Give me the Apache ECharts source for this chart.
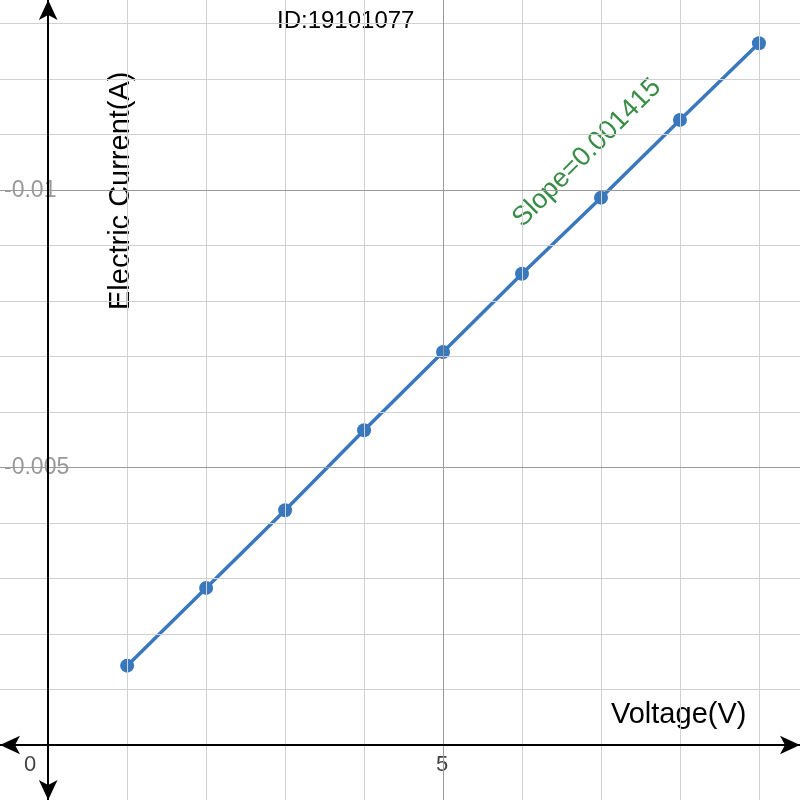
<!DOCTYPE html>
<html>
<head>
<meta charset="utf-8">
<script src="https://cdn.jsdelivr.net/npm/echarts@6/dist/echarts.min.js"></script>
<style>html,body{margin:0;padding:0;background:#fff}#main{width:800px;height:800px}</style>
</head>
<body>
<div id="main"></div>
<script>
// voltage (V) and current (A)
var voltage = [1, 2, 3, 4, 5, 6, 7, 8, 9];
var current = [0.00143, 0.00283, 0.00423, 0.00567, 0.00708, 0.00849, 0.00986, 0.01126, 0.01264];
var xGrid = [1, 2, 3, 4, 6, 7, 8, 9];
var xMajor = [5];
var yGrid = [0.001, 0.002, 0.003, 0.004, 0.006, 0.007, 0.008, 0.009, 0.011, 0.012, 0.013];
var yMajor = [0.005, 0.01];

var xMin = -0.61, xMax = 9.52, yMin = -0.00099, yMax = 0.01342;

var chart = echarts.init(document.getElementById('main'));

function vLines(arr) { return arr.map(function (v) { return [{ coord: [v, yMin] }, { coord: [v, yMax] }]; }); }
function hLines(arr) { return arr.map(function (v) { return [{ coord: [xMin, v] }, { coord: [xMax, v] }]; }); }

var option = {
  animation: false,
  grid: { left: 0, right: 0, top: 0, bottom: 0 },
  xAxis: { type: 'value', min: xMin, max: xMax, show: false },
  yAxis: { type: 'value', min: yMin, max: yMax, show: false },
  series: [
    {
      type: 'line', data: [], silent: true,
      markLine: {
        silent: true, symbol: 'none', label: { show: false },
        lineStyle: { color: '#d0d0d0', width: 1, type: 'solid' },
        data: vLines(xGrid).concat(hLines(yGrid))
      }
    },
    {
      type: 'line', data: [], silent: true,
      markLine: {
        silent: true, symbol: 'none', label: { show: false },
        lineStyle: { color: '#9a9a9a', width: 1, type: 'solid' },
        data: vLines(xMajor).concat(hLines(yMajor))
      }
    },
    {
      type: 'line', data: [], silent: true,
      markLine: {
        silent: true, symbol: ['arrow', 'arrow'], symbolSize: [14, 20], label: { show: false },
        lineStyle: { color: '#000', width: 2, type: 'solid' },
        data: [
          [{ coord: [xMin, 0] }, { coord: [xMax, 0] }],
          [{ coord: [0, yMin] }, { coord: [0, yMax] }]
        ]
      }
    },
    {
      type: 'line',
      data: voltage.map(function (v, i) { return [v, current[i]]; }),
      symbol: 'circle', symbolSize: 14, clip: false,
      lineStyle: { color: '#3a78be', width: 3.5 },
      itemStyle: { color: '#3a78be' }
    }
  ],
  graphic: [
    { type: 'text', left: 277, top: 9, style: { text: 'ID:19101077', font: '24px Arial, "Liberation Sans"', fill: '#000' } },
    { type: 'text', x: 106, y: 310, rotation: Math.PI / 2, style: { text: 'Electric Current(A)', font: '29px Arial, "Liberation Sans"', fill: '#000' } },
    { type: 'text', left: 611, top: 700, style: { text: 'Voltage(V)', font: '29px Arial, "Liberation Sans"', fill: '#000' } },
    { type: 'text', x: 587, y: 153, rotation: Math.PI / 4, style: { text: 'Slope=0.001415', font: '27px Arial, "Liberation Sans"', fill: '#388c46', align: 'center', verticalAlign: 'middle' } },
    { type: 'text', left: 24, top: 754, style: { text: '0', font: '22px Arial, "Liberation Sans"', fill: '#444' } },
    { type: 'text', left: 436, top: 754, style: { text: '5', font: '22px Arial, "Liberation Sans"', fill: '#444' } },
    { type: 'text', x: 4, y: 191, style: { text: '-0.01', font: '23px Arial, "Liberation Sans"', fill: '#999', verticalAlign: 'middle', backgroundColor: '#fff' } },
    { type: 'text', x: 4, y: 468, style: { text: '-0.005', font: '23px Arial, "Liberation Sans"', fill: '#999', verticalAlign: 'middle', backgroundColor: '#fff' } }
  ]
};
chart.setOption(option);
</script>
</body>
</html>
